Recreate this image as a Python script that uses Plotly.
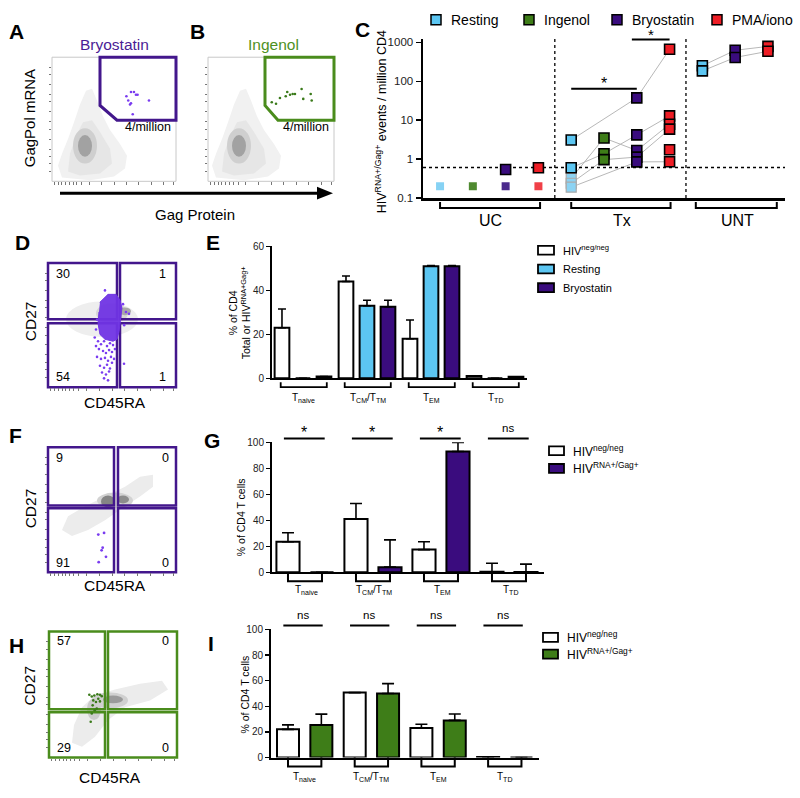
import plotly.graph_objects as go

W, H = 800, 798
def X(px): return px / W
def Y(py): return 1 - py / H

FONT = "Liberation Sans, Arial, sans-serif"
PURPLE = "#3a0c7e"; BLUE = "#5cc6f2"; GREEN = "#3e7d18"; RED = "#ee1d25"
GATE_PURPLE = "#43178c"; GATE_GREEN = "#4a8c1c"
DOT_PURPLE = "#7a3cf0"; DOT_GREEN = "#3a7a1a"

# ---------------- Panel C data ----------------
c_groups = ["UC", "Tx", "UNT"]
c_series = ["Resting", "Ingenol", "Bryostatin", "PMA/iono"]
c_resting_x = [4, 4, 8, 8]
c_resting_y = [3.1, 0.6, 251, 185]
c_ingenol_x = [5, 5, 5]
c_ingenol_y = [3.5, 1.38, 0.97]
c_bryo_x = [2, 6, 6, 6, 6, 6, 9, 9]
c_bryo_y = [0.54, 37.6, 4.2, 1.67, 1.13, 0.85, 627, 410]
c_pma_x = [3, 7, 7, 7, 7, 7, 7, 10, 10]
c_pma_y = [0.6, 665, 12.9, 7.9, 5.9, 1.74, 0.86, 790, 590]
c_bdl_x = [0, 1, 2, 3]
c_bdl_y = [0.2, 0.2, 0.2, 0.2]
c_bdl_tx_x = [4, 4, 4]
c_bdl_tx_y = [0.32, 0.24, 0.19]
c_donor_x = [[4, 6, 7], [4, 5, 6, 7], [4, 5, 6, 7], [4, 5, 6, 7], [4, 6, 7], [8, 9, 10], [8, 9, 10]]
c_donor_y = [[3.1, 37.6, 665], [0.6, 1.38, 4.2, 12.9], [0.32, 3.5, 1.67, 7.9],
             [0.24, 0.97, 1.13, 5.9], [0.19, 0.85, 0.86], [251, 627, 790], [185, 410, 590]]
c_limit = 0.61

# ---------------- Bar panels data ----------------
subsets = ["T<sub>naive</sub>", "T<sub>CM</sub>/T<sub>TM</sub>", "T<sub>EM</sub>", "T<sub>TD</sub>"]
e_neg = [23, 44, 18, 1.0];   e_neg_err = [8.5, 2.5, 8.5, 0]
e_rest = [0, 33, 51, 0];     e_rest_err = [0, 2.5, 0.3, 0]
e_bryo = [0.8, 32.5, 51, 0.7]; e_bryo_err = [0, 3, 0.3, 0]

g_neg = [23.5, 41, 17.5, 0.5]; g_neg_err = [7, 12, 6, 6.5]
g_pos = [0, 4, 93, 0.3];       g_pos_err = [0, 21, 7, 6]
g_sig = ["*", "*", "*", "ns"]

i_neg = [22, 50.7, 23, 0.5];   i_neg_err = [3.5, 0, 3, 0]
i_pos = [25.4, 50, 29, 0];     i_pos_err = [8.5, 7.7, 5, 0]
i_sig = ["ns", "ns", "ns", "ns"]

# ---------------- Flow dots data (axis units 0-100) ----------------
a_dots_x = [60, 63.7, 66.1, 67.7, 61.5, 62.9, 63.7, 78.2, 65.1, 69]
a_dots_y = [68.5, 72, 72, 69.8, 65.1, 61.9, 62.9, 65.1, 54, 69.8]
b_dots_x = [50.6, 54, 57.1, 61.7, 62.9, 65.1, 67.2, 69, 74.3, 75.6, 81.5, 82.3]
b_dots_y = [63.7, 62.5, 67.2, 68.5, 72, 69.8, 70.4, 70.4, 74.4, 66.4, 70.4, 65.1]
d_blob_x = [40.6, 46.9, 53.1, 56.3, 57.8, 57.0, 55.5, 53.9, 50.8, 44.5, 40.6, 39.1, 39.8]
d_blob_y = [68.5, 74.8, 74.8, 70.1, 63.8, 56.7, 44.9, 38.6, 37.0, 38.6, 42.5, 51.2, 60.6]
d_dots_x = [39.1, 41.4, 43.8, 46.1, 48.4, 50.8, 39.8, 43.0, 45.3, 47.7, 50.0, 38.3, 41.4, 44.5,
            46.9, 49.2, 51.6, 40.6, 43.8, 46.1, 48.4, 42.2, 45.3, 47.7, 43.8, 46.9, 59.4, 37.5,
            52.3, 50.0, 38.3, 37.5, 58.6, 60.9, 63.3, 44.5, 36.5, 59.5]
d_dots_y = [37.0, 34.6, 37.0, 33.1, 35.4, 33.9, 30.7, 29.1, 27.6, 29.9, 28.3, 24.4, 22.8, 23.6,
            21.3, 24.4, 22.8, 17.3, 15.7, 18.1, 15.0, 11.8, 10.2, 12.6, 7.1, 5.5, 18.9, 33.1,
            30.7, 19.7, 54.3, 46.5, 66.9, 60.6, 59.1, 78.0, 40.0, 50.0]
f_dots_x = [39.3, 43.8, 42.7, 41.9, 45.3, 39.6]
f_dots_y = [30.2, 31.5, 19.7, 17.6, 12.4, 8.1]
h_dots_x = [31.5, 33.4, 35.4, 37.8, 39.8, 41.2, 34.6, 36.7, 38.5, 34.1, 35.7, 33.4, 32.6, 39.8, 37.3]
h_dots_y = [49.8, 48.4, 49.2, 50.2, 49.8, 48.7, 45.3, 44.0, 46.6, 41.4, 37.5, 34.9, 28.4, 44.5, 38.8]

fig = go.Figure()
shapes = []
ann = []

def text(s, px, py, size, color="black", xa="center", ya="middle", angle=0, bold=False):
    if bold:
        s = "<b>%s</b>" % s
    ann.append(dict(text=s, x=X(px), y=Y(py), xref="paper", yref="paper", showarrow=False,
                    xanchor=xa, yanchor=ya, textangle=angle,
                    font=dict(size=size, color=color, family=FONT)))

def pline(px0, py0, px1, py1, color="black", width=2):
    shapes.append(dict(type="line", xref="paper", yref="paper", x0=X(px0), y0=Y(py0),
                       x1=X(px1), y1=Y(py1), line=dict(color=color, width=width)))

def prect(px0, py0, px1, py1, color="black", width=1.5, fill="rgba(0,0,0,0)", layer="above"):
    shapes.append(dict(type="rect", xref="paper", yref="paper", x0=X(px0), y0=Y(py0),
                       x1=X(px1), y1=Y(py1), line=dict(color=color, width=width),
                       fillcolor=fill, layer=layer))

def ellipse(cx, cy, rx, ry, fill, layer="below"):
    shapes.append(dict(type="circle", xref="paper", yref="paper", x0=X(cx - rx), x1=X(cx + rx),
                       y0=Y(cy + ry), y1=Y(cy - ry), line=dict(width=0), fillcolor=fill, layer=layer))

def poly(points, fill="rgba(0,0,0,0)", color=None, width=0, closed=True, layer="below"):
    path = "M " + " L ".join("%.5f,%.5f" % (X(a), Y(b)) for a, b in points)
    if closed:
        path += " Z"
    shapes.append(dict(type="path", xref="paper", yref="paper", path=path, fillcolor=fill,
                       line=dict(color=color or "rgba(0,0,0,0)", width=width), layer=layer))

def xpath(xref, pts, width=2, fill="rgba(0,0,0,0)", closed=False):
    # x in data units of xref, y in pixel rows
    path = "M " + " L ".join("%.4f,%.5f" % (a, Y(b)) for a, b in pts)
    if closed:
        path += " Z"
    shapes.append(dict(type="path", xref=xref, yref="paper", path=path, fillcolor=fill,
                       line=dict(color="black", width=width)))

# ======================= Panel C =======================
for xs, ys in zip(c_donor_x, c_donor_y):
    fig.add_trace(go.Scatter(x=xs, y=ys, mode="lines", line=dict(color="#b8b8b8", width=1),
                             xaxis="x", yaxis="y"))
fig.add_trace(go.Scatter(x=[-0.52, 10.52], y=[c_limit, c_limit], mode="lines",
                         line=dict(color="black", width=1.3, dash="dot"), xaxis="x", yaxis="y"))
for xv in [3.5, 7.5]:
    fig.add_trace(go.Scatter(x=[xv, xv], y=[0.1, 1259], mode="lines",
                             line=dict(color="black", width=1.3, dash="dot"), xaxis="x", yaxis="y"))
fig.add_trace(go.Scatter(x=c_bdl_x, y=c_bdl_y, mode="markers", xaxis="x", yaxis="y",
                         marker=dict(symbol="square", size=8,
                                     color=["#86d2f4", "#4f8a30", "#4b2a8c", "#f04048"],
                                     line=dict(width=0))))
fig.add_trace(go.Scatter(x=c_bdl_tx_x, y=c_bdl_tx_y, mode="markers", xaxis="x", yaxis="y",
                         marker=dict(symbol="square", size=10, color="#8cd3f3",
                                     line=dict(width=1.2, color="#aaaaaa"))))
for xs, ys, col in [(c_resting_x, c_resting_y, BLUE), (c_ingenol_x, c_ingenol_y, GREEN),
                    (c_bryo_x, c_bryo_y, PURPLE), (c_pma_x, c_pma_y, RED)]:
    fig.add_trace(go.Scatter(x=xs, y=ys, mode="markers", xaxis="x", yaxis="y",
                             marker=dict(symbol="square", size=10, color=col,
                                         line=dict(width=1.6, color="black"))))
# legend C
for px, col, lab in zip([436, 529, 617, 717], [BLUE, GREEN, PURPLE, RED], c_series):
    prect(px - 5, 9, px + 5, 19, color="black", width=1.5, fill=col)
    text(lab, px + 13, 14, 14, xa="left")
# brackets C
for a, b in [(0, 3.05), (4, 7.03), (7.8, 10.27)]:
    xpath("x", [(a, 199), (a, 205), (b, 205), (b, 199)], width=2)
for lab, px in zip(c_groups, [490, 622, 737]):
    text(lab, px, 218, 16)
# significance C
xpath("x", [(4, 84), (6, 84)], width=2)
text("*", 604, 79, 16)
xpath("x", [(5.85, 34), (7.0, 34)], width=2)
text("*", 651, 29, 15)
text("HIV<sup>RNA+/Gag+</sup> events / million CD4", 381, 118, 12.5, angle=-90)
text("C", 362, 24, 21, bold=True)

# ======================= Panel E =======================
def bars(xs, ys, errs, col, ax, width, ew, lw=2):
    fig.add_trace(go.Bar(x=xs, y=ys, width=width, xaxis="x" + ax, yaxis="y" + ax,
                         marker=dict(color=col, line=dict(color="black", width=lw)),
                         error_y=dict(type="data", array=errs, arrayminus=[0] * len(errs),
                                      symmetric=False, color="black", thickness=1.6, width=ew)))

gx = list(range(4))
bars([g for g in gx], e_neg, e_neg_err, "white", "2", 0.23, 4)
bars([g + 0.328 for g in gx], e_rest, e_rest_err, BLUE, "2", 0.23, 4)
bars([g + 0.656 for g in gx], e_bryo, e_bryo_err, PURPLE, "2", 0.23, 4)
for g, lab in enumerate(subsets):
    xpath("x2", [(g - 0.02, 382), (g - 0.02, 387), (g + 0.70, 387), (g + 0.70, 382)], width=1.8)
    text(lab, 282 + 64 * (g + 0.34), 398, 10)
text("% of CD4<br>Total or HIV<sup>RNA+Gag+</sup>", 240, 312, 10.5, angle=-90)
text("E", 213, 240, 21, bold=True)
for py, col, lab in zip([248, 267, 286], ["white", BLUE, PURPLE],
                        ["HIV<sup>neg/neg</sup>", "Resting", "Bryostatin"]):
    prect(538, py - 4.5, 554, py + 4.5, color="black", width=1.8, fill=col)
    text(lab, 561, py, 11, xa="left")

# ======================= Panel G =======================
bars(gx, g_neg, g_neg_err, "white", "3", 0.34, 6)
bars([g + 0.5 for g in gx], g_pos, g_pos_err, PURPLE, "3", 0.34, 6)
for g, lab in enumerate(subsets):
    xpath("x3", [(g, 575), (g, 584), (g + 0.5, 584), (g + 0.5, 575)], width=2)
    text(lab, 288 + 68 * (g + 0.27), 593, 10)
    xpath("x3", [(g - 0.06, 439), (g + 0.54, 439)], width=2)
    if g_sig[g] == "*":
        text("*", 288 + 68 * (g + 0.24), 433, 16)
    else:
        text("ns", 288 + 68 * (g + 0.24), 428, 11.5)
text("% of CD4 T cells", 241, 519, 10.5, angle=-90)
text("G", 212, 441, 21, bold=True)
for py, col, lab in zip([451.5, 469.5], ["white", PURPLE],
                        ["HIV<sup>neg/neg</sup>", "HIV<sup>RNA+/Gag+</sup>"]):
    prect(549, py - 4.5, 564, py + 4.5, color="black", width=1.8, fill=col)
    text(lab, 571, py, 12, xa="left")

# ======================= Panel I =======================
bars(gx, i_neg, i_neg_err, "white", "4", 0.33, 6)
bars([g + 0.5 for g in gx], i_pos, i_pos_err, GREEN, "4", 0.33, 6)
for g, lab in enumerate(subsets):
    xpath("x4", [(g, 763), (g, 772), (g + 0.5, 772), (g + 0.5, 763)], width=2)
    text(lab, 288 + 66.7 * (g + 0.25), 783, 10)
    xpath("x4", [(g - 0.07, 629), (g + 0.52, 629)], width=2)
    text(i_sig[g], 288 + 66.7 * (g + 0.22), 618, 11.5)
text("% of CD4 T cells", 245, 699, 10.5, angle=-90)
text("I", 211, 647, 21, bold=True)
for py, col, lab in zip([641, 658], ["white", GREEN],
                        ["HIV<sup>neg/neg</sup>", "HIV<sup>RNA+/Gag+</sup>"]):
    prect(543, py - 4.5, 558, py + 4.5, color="black", width=1.8, fill=col)
    text(lab, 565, py, 12, xa="left")

# ======================= Flow panels =======================
def ab_cloud(dx):
    poly([(62 + dx, 174), (58 + dx, 162), (62 + dx, 150), (68 + dx, 135), (74 + dx, 118), (80 + dx, 100),
          (86 + dx, 86), (92 + dx, 84), (97 + dx, 96), (103 + dx, 112), (110 + dx, 126), (120 + dx, 140),
          (127 + dx, 152), (125 + dx, 165), (114 + dx, 173), (90 + dx, 177)], fill="#f1f1f1")
    poly([(68 + dx, 168), (70 + dx, 150), (76 + dx, 132), (83 + dx, 118), (92 + dx, 116), (100 + dx, 128),
          (110 + dx, 145), (112 + dx, 160), (100 + dx, 170), (80 + dx, 172)], fill="#e6e6e6")
    ellipse(85 + dx, 142, 12, 18, "#cfcfcf")
    ellipse(85 + dx, 142, 7, 11, "#a2a2a2")

ab_cloud(0)
ab_cloud(154)
prect(52, 52, 176, 178, color="#c8c8c8", width=1, layer="below")
prect(208, 52, 334, 178, color="#c8c8c8", width=1, layer="below")
poly([(100, 52), (176, 52), (176, 116), (117, 116), (100, 101)], color=GATE_PURPLE, width=3, layer="above")
poly([(265, 52), (334, 52), (334, 116), (278, 116), (265, 101)], color=GATE_GREEN, width=3, layer="above")
text("4/million", 148, 123, 12.5)
text("4/million", 306, 123, 12.5)
text("Bryostatin", 115, 39, 15.5, color="#4b1c95")
text("Ingenol", 273, 39, 15.5, color="#4e9123")
text("GagPol mRNA", 29, 114, 15, angle=-90)
pline(60, 190, 320, 190, width=3)
poly([(333, 190), (317, 183.5), (317, 196.5)], fill="black", layer="above")
text("Gag Protein", 195, 212, 15)
text("A", 16, 26, 21, bold=True)
text("B", 197, 26, 21, bold=True)

# D cloud + quadrants
ellipse(102, 318, 36, 18, "#eeeeee")
ellipse(112, 312, 16, 10, "#d6d6d6")
ellipse(125, 310, 6, 4, "#a8a8a8")
for r in [(48, 261, 117, 318), (120, 261, 176, 318), (48, 322, 117, 387), (120, 322, 176, 387)]:
    prect(*r, color=GATE_PURPLE, width=2.5, layer="below")
for s, px, py, xa in [("30", 54, 272, "left"), ("1", 168, 272, "right"),
                      ("54", 54, 377, "left"), ("1", 168, 377, "right")]:
    text(s, px, py, 12.5, xa=xa)
text("CD27", 30, 320, 15.5, angle=-90)
text("CD45RA", 115, 403, 15.5)
text("D", 22, 240, 21, bold=True)

# F cloud + quadrants
poly([(62, 532), (68, 518), (85, 508), (105, 498), (125, 488), (140, 478), (153, 476), (153, 488),
      (140, 498), (122, 510), (105, 522), (88, 532), (72, 538)], fill="#ececec")
ellipse(115, 502, 18, 8, "#d2d2d2")
ellipse(108, 503, 7, 6, "#858585")
ellipse(123, 501, 6, 4, "#8c8c8c")
for r in [(48, 448, 114, 507), (118, 448, 176, 507), (48, 510, 114, 575), (118, 510, 176, 575)]:
    prect(*r, color=GATE_PURPLE, width=2.5, layer="below")
for s, px, py, xa in [("9", 54, 459, "left"), ("0", 171, 459, "right"),
                      ("91", 54, 565, "left"), ("0", 171, 565, "right")]:
    text(s, px, py, 12.5, xa=xa)
text("CD27", 30, 510, 15.5, angle=-90)
text("CD45RA", 115, 588, 15.5)
text("F", 15, 436, 21, bold=True)

# H cloud + quadrants
poly([(72, 748), (74, 730), (82, 712), (95, 700), (115, 694), (140, 688), (162, 685), (168, 694),
      (150, 705), (125, 712), (108, 725), (95, 742), (82, 752)], fill="#ececec")
ellipse(94, 714, 7, 11, "#cccccc")
ellipse(110, 705, 18, 8, "#d0d0d0")
ellipse(113, 704, 10, 4, "#9a9a9a")
for r in [(49, 635, 105, 714), (108, 635, 177, 714), (49, 717, 105, 763), (108, 717, 177, 763)]:
    prect(*r, color=GATE_GREEN, width=2.5, layer="below")
for s, px, py, xa in [("57", 55, 645, "left"), ("0", 171, 645, "right"),
                      ("29", 55, 753, "left"), ("0", 171, 753, "right")]:
    text(s, px, py, 12.5, xa=xa)
text("CD27", 30, 690, 15.5, angle=-90)
text("CD45RA", 110, 783, 15.5)
text("H", 16, 649, 21, bold=True)

# dots
fig.add_trace(go.Scatter(x=a_dots_x, y=a_dots_y, mode="markers", xaxis="x5", yaxis="y5",
                         marker=dict(size=2.6, color=DOT_PURPLE)))
fig.add_trace(go.Scatter(x=b_dots_x, y=b_dots_y, mode="markers", xaxis="x6", yaxis="y6",
                         marker=dict(size=2.6, color=DOT_GREEN)))
fig.add_trace(go.Scatter(x=d_blob_x, y=d_blob_y, mode="lines", fill="toself", xaxis="x7", yaxis="y7",
                         line=dict(width=1, color="rgba(112,52,228,0.95)"),
                         fillcolor="rgba(112,52,228,0.95)"))
fig.add_trace(go.Scatter(x=d_dots_x, y=d_dots_y, mode="markers", xaxis="x7", yaxis="y7",
                         marker=dict(size=2.6, color=DOT_PURPLE)))
fig.add_trace(go.Scatter(x=f_dots_x, y=f_dots_y, mode="markers", xaxis="x8", yaxis="y8",
                         marker=dict(size=2.8, color=DOT_PURPLE)))
fig.add_trace(go.Scatter(x=h_dots_x, y=h_dots_y, mode="markers", xaxis="x9", yaxis="y9",
                         marker=dict(size=2.6, color=DOT_GREEN)))

# ======================= Axes =======================
def bar_x(x0, x1, rng, anchor, lw=2):
    return dict(domain=[X(x0), X(x1)], range=rng, anchor=anchor, showline=True, linecolor="black",
                linewidth=lw, ticks="", showticklabels=False, showgrid=False, zeroline=False)

def bar_y(ytop, ybot, rng, anchor, tickvals, size, lw=2, ticklen=4, ttype="linear", ticktext=None):
    d = dict(domain=[Y(ybot), Y(ytop)], range=rng, anchor=anchor, showline=True, linecolor="black",
             linewidth=lw, ticks="outside", ticklen=ticklen, tickwidth=1.5, tickcolor="black",
             tickvals=tickvals, tickfont=dict(size=size, family=FONT, color="#222"),
             showgrid=False, zeroline=False, type=ttype)
    if ticktext:
        d["ticktext"] = ticktext
    return d

def flow_x(x0, x1, anchor, tv):
    return dict(domain=[X(x0), X(x1)], range=[0, 100], anchor=anchor, showline=False, showgrid=False,
                zeroline=False, showticklabels=False, ticks="outside", ticklen=2.5, tickwidth=1,
                tickcolor="#777", tickvals=tv)

def flow_y(ytop, ybot, anchor, tv):
    return dict(domain=[Y(ybot), Y(ytop)], range=[0, 100], anchor=anchor, showline=False,
                showgrid=False, zeroline=False, showticklabels=False, ticks="outside", ticklen=2.5,
                tickwidth=1, tickcolor="#777", tickvals=tv)

flow_xt = [2, 5, 8, 11, 14, 17, 20, 24, 30, 40, 50, 60, 70, 80, 90, 98]
flow_yt = [8, 14, 20, 26, 34, 42, 48, 56, 64, 70, 78, 86, 92]

layout = dict(
    width=800, height=798, margin=dict(l=0, r=0, t=0, b=0),
    paper_bgcolor="white", plot_bgcolor="rgba(0,0,0,0)", showlegend=False,
    font=dict(family=FONT, color="black"), barmode="overlay",
    shapes=shapes, annotations=ann,
    xaxis=bar_x(423, 785, [-0.52, 10.52], "y", lw=2.5),
    yaxis=bar_y(33, 195, [-1, 3.1], "x", [0.1, 1, 10, 100, 1000], 11.5, lw=2.5, ticklen=5,
                ttype="log", ticktext=["0.1", "1", "10", "100", "1000"]),
    xaxis2=bar_x(272, 527, [-0.156, 3.828], "y2"),
    yaxis2=bar_y(244, 378, [0, 60], "x2", [0, 20, 40, 60], 10),
    xaxis3=bar_x(272, 544, [-0.235, 3.765], "y3"),
    yaxis3=bar_y(443, 575, [0, 100], "x3", [0, 20, 40, 60, 80, 100], 10),
    xaxis4=bar_x(271, 539, [-0.255, 3.763], "y4"),
    yaxis4=bar_y(633, 763, [0, 100], "x4", [0, 20, 40, 60, 80, 100], 10),
    xaxis5=flow_x(52, 176, "y5", flow_xt), yaxis5=flow_y(52, 178, "x5", flow_yt),
    xaxis6=flow_x(208, 334, "y6", flow_xt), yaxis6=flow_y(52, 178, "x6", flow_yt),
    xaxis7=flow_x(48, 176, "y7", flow_xt), yaxis7=flow_y(261, 387, "x7", flow_yt),
    xaxis8=flow_x(48, 176, "y8", flow_xt), yaxis8=flow_y(448, 575, "x8", flow_yt),
    xaxis9=flow_x(49, 177, "y9", flow_xt), yaxis9=flow_y(635, 763, "x9", flow_yt),
)
fig.update_layout(**layout)
fig.update_traces(hoverinfo="skip")
fig.write_html("out.html", config={"displayModeBar": False, "staticPlot": True},
               post_script="document.body.style.margin='0';document.body.style.padding='0';"
                           "document.body.style.overflow='hidden';")
